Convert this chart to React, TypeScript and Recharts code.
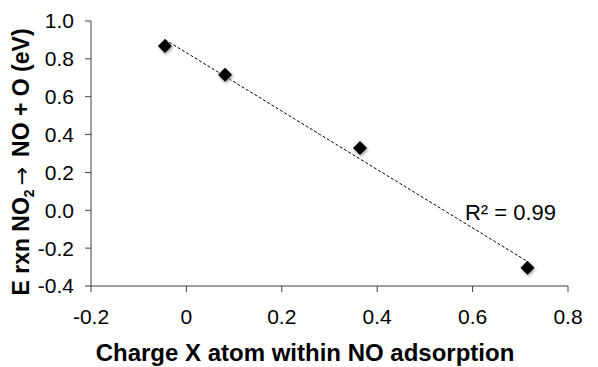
import React from "react";
import { ScatterChart, Scatter, XAxis, YAxis, ReferenceDot, Label } from "recharts";

// values
const chargeX = [-0.045, 0.081, 0.364, 0.715];
const reactionEnergy = [0.868, 0.716, 0.329, -0.303];
const xTicks = [-0.2, 0, 0.2, 0.4, 0.6, 0.8];
const yTicks = [-0.4, -0.2, 0, 0.2, 0.4, 0.6, 0.8, 1.0];
const rSquaredText = "R² = 0.99";
const rSquaredX = 0.584;
const rSquaredY = -0.013;

const FONT = "'Liberation Sans', Arial, sans-serif";
const AXIS = "#404040";

const points = chargeX.map((x, i) => ({ x, y: reactionEnergy[i] }));

// least squares trendline, same as Excel's linear trend
const n = chargeX.length;
const mx = chargeX.reduce((a, b) => a + b, 0) / n;
const my = reactionEnergy.reduce((a, b) => a + b, 0) / n;
let sxy = 0;
let sxx = 0;
chargeX.forEach((x, i) => {
  sxy += (x - mx) * (reactionEnergy[i] - my);
  sxx += (x - mx) * (x - mx);
});
const slope = sxy / sxx;
const intercept = my - slope * mx;
const xMin = Math.min(...chargeX);
const xMax = Math.max(...chargeX);
const trend = [
  { x: xMin, y: intercept + slope * xMin },
  { x: xMax, y: intercept + slope * xMax },
];

const Diamond = (props: any) => {
  const { cx, cy, index } = props;
  const r = 7;
  const d = `M${cx},${cy - r} L${cx + r},${cy} L${cx},${cy + r} L${cx - r},${cy} Z`;
  const id = `blur-${index}`;
  return (
    <g>
      <defs>
        <filter id={id} x="-1" y="-1" width="3" height="3">
          <feGaussianBlur stdDeviation="1.6" />
        </filter>
      </defs>
      <path d={d} fill="#9a9a9a" transform="translate(1,1.5)" filter={`url(#${id})`} />
      <path d={d} fill="#000" />
    </g>
  );
};

const XTitle = () => (
  <text x={305} y={352} textAnchor="middle" dominantBaseline="central" fontFamily={FONT} fontWeight="bold" fontSize={24} fill="#000">
    Charge X atom within NO adsorption
  </text>
);

const YTitle = () => (
  <text transform="translate(29,162) rotate(-90)" textAnchor="middle" fontFamily={FONT} fontWeight="bold" fontSize={23} fill="#000">
    <tspan>E rxn NO</tspan>
    <tspan fontSize={14} dy={5}>2</tspan>
    <tspan dy={-5} dx={4} fontWeight="normal" fontFamily="'DejaVu Sans', sans-serif" fontSize={22}>→</tspan>
    <tspan dx={10}>NO + O (eV)</tspan>
  </text>
);

export default function App() {
  return (
    <div style={{ position: "absolute", left: 0, top: 0, background: "#fff" }}>
      <ScatterChart width={598} height={367} margin={{ top: 21, right: 30, bottom: 0, left: 0 }}>
        <XAxis
          type="number"
          dataKey="x"
          domain={[-0.2, 0.8]}
          ticks={xTicks}
          allowDataOverflow
          height={81}
          tickSize={6}
          tickMargin={17}
          stroke={AXIS}
          tick={{ fill: "#000", fontSize: 21, fontFamily: FONT }}
          tickFormatter={(v: number) => (v === 0 ? "0" : v.toFixed(1))}
        >
          <Label content={() => <XTitle />} />
        </XAxis>
        <YAxis
          type="number"
          dataKey="y"
          domain={[-0.4, 1.0]}
          ticks={yTicks}
          allowDataOverflow
          width={91}
          tickSize={6}
          tickMargin={11}
          stroke={AXIS}
          tick={{ fill: "#000", fontSize: 21, fontFamily: FONT }}
          tickFormatter={(v: number) => v.toFixed(1)}
        >
          <Label content={() => <YTitle />} />
        </YAxis>
        <Scatter
          data={trend}
          line={{ stroke: "#000", strokeWidth: 1, strokeDasharray: "3 2" }}
          shape={() => null}
          isAnimationActive={false}
        />
        <Scatter data={points} shape={Diamond} isAnimationActive={false} />
        <ReferenceDot
          x={rSquaredX}
          y={rSquaredY}
          r={0}
          ifOverflow="visible"
          shape={(p: any) => (
            <text x={p.cx} y={p.cy} dominantBaseline="central" fontFamily={FONT} fontSize={22} fill="#000">
              {rSquaredText}
            </text>
          )}
        />
      </ScatterChart>
    </div>
  );
}
